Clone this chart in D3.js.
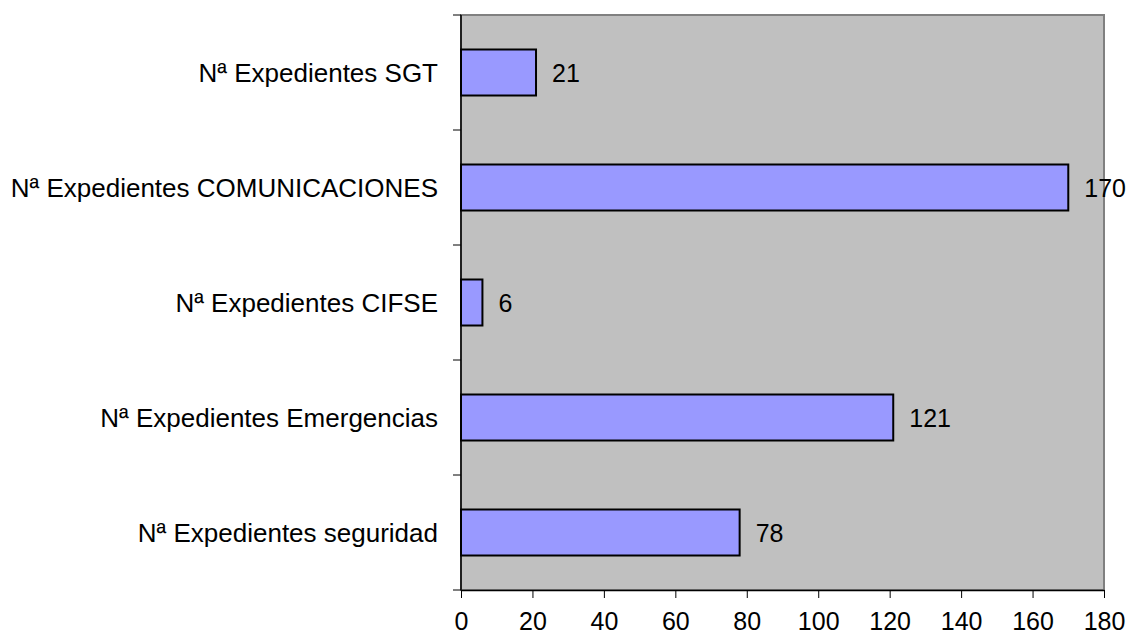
<!DOCTYPE html>
<html>
<head>
<meta charset="utf-8">
<script src="https://cdn.jsdelivr.net/npm/d3@7"></script>
<style>
  html, body { margin: 0; padding: 0; background: #ffffff; }
  svg text { font-family: Arial, "Liberation Sans", sans-serif; fill: #000; }
</style>
</head>
<body>
<svg id="chart" width="1133" height="635"></svg>
<script>
// Expedientes por área
const categories = [
  "Nª Expedientes SGT",
  "Nª Expedientes COMUNICACIONES",
  "Nª Expedientes CIFSE",
  "Nª Expedientes Emergencias",
  "Nª Expedientes seguridad"
];
const values = [21, 170, 6, 121, 78];
const xTicks = [0, 20, 40, 60, 80, 100, 120, 140, 160, 180];

const svg = d3.select("#chart");
const plot = { left: 461, right: 1104, top: 15, bottom: 590 };

const x = d3.scaleLinear().domain([0, 180]).range([plot.left, plot.right]);
const y = d3.scaleBand().domain(categories).range([plot.top, plot.bottom])
  .paddingInner(0.6).paddingOuter(0.3);
const yEdges = d3.scaleBand().domain(categories).range([plot.top, plot.bottom]);

// Plot background
svg.append("rect")
  .attr("x", plot.left).attr("y", plot.top)
  .attr("width", plot.right - plot.left).attr("height", plot.bottom - plot.top)
  .attr("fill", "#c0c0c0")
  .attr("stroke", "#808080").attr("stroke-width", 2);

// Bars
svg.append("g").selectAll("rect")
  .data(values)
  .join("rect")
  .attr("x", x(0))
  .attr("y", (d, i) => y(categories[i]))
  .attr("width", d => x(d) - x(0))
  .attr("height", y.bandwidth())
  .attr("fill", "#9999ff")
  .attr("stroke", "#000").attr("stroke-width", 2);

// Value labels
svg.append("g").selectAll("text")
  .data(values)
  .join("text")
  .attr("x", d => x(d) + 16)
  .attr("y", (d, i) => y(categories[i]) + y.bandwidth() / 2)
  .attr("dy", "0.36em")
  .attr("font-size", 25)
  .text(d => d);

// Left axis: line, band-edge ticks and category labels
const left = svg.append("g");
left.append("line")
  .attr("x1", plot.left).attr("x2", plot.left)
  .attr("y1", plot.top).attr("y2", plot.bottom)
  .attr("stroke", "#000").attr("stroke-width", 1.5);
const edges = categories.map(c => yEdges(c)).concat([plot.bottom]);
left.selectAll("line.tick")
  .data(edges)
  .join("line").attr("class", "tick")
  .attr("x1", plot.left - 8).attr("x2", plot.left)
  .attr("y1", d => d).attr("y2", d => d)
  .attr("stroke", "#000").attr("stroke-width", 1);
left.selectAll("text")
  .data(categories)
  .join("text")
  .attr("x", plot.left - 23)
  .attr("y", d => y(d) + y.bandwidth() / 2)
  .attr("dy", "0.36em")
  .attr("text-anchor", "end")
  .attr("font-size", 26)
  .text(d => d);

// Bottom axis
const xAxis = svg.append("g")
  .attr("transform", `translate(0,${plot.bottom})`)
  .call(d3.axisBottom(x).tickValues(xTicks).tickSize(8).tickSizeOuter(0).tickPadding(14));
xAxis.select(".domain").attr("stroke", "#000").attr("stroke-width", 1.5);
xAxis.selectAll(".tick line").attr("stroke", "#000");
xAxis.selectAll(".tick text")
  .attr("font-size", 25)
  .attr("font-family", "Arial, 'Liberation Sans', sans-serif")
  .attr("fill", "#000");
</script>
</body>
</html>
